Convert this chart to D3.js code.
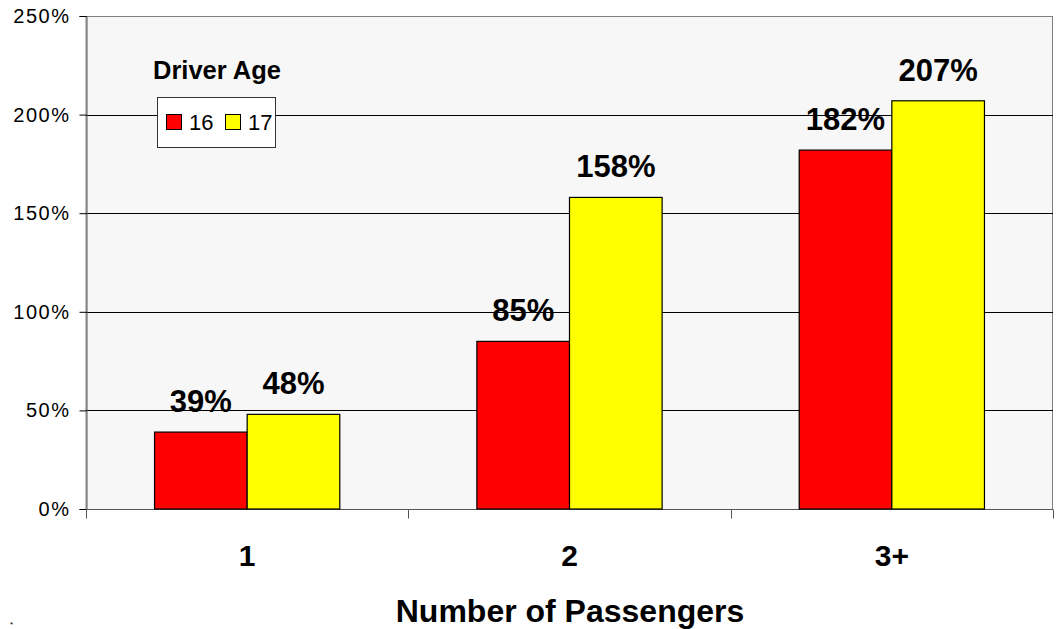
<!DOCTYPE html>
<html>
<head>
<meta charset="utf-8">
<script src="https://cdn.jsdelivr.net/npm/d3@7"></script>
<style>
  html, body { margin: 0; padding: 0; background: #fff; }
  svg { display: block; font-family: "Liberation Sans", Arial, sans-serif; }
</style>
</head>
<body>
<svg id="chart" width="1057" height="629"></svg>
<script>
const categories = ["1", "2", "3+"];
const seriesNames = ["16", "17"];
const values16 = [0.39, 0.85, 1.82];
const values17 = [0.48, 1.58, 2.07];
const seriesColors = ["#ff0000", "#ffff00"];
const yTicks = [0, 0.5, 1.0, 1.5, 2.0, 2.5];
const legendTitle = "Driver Age";
const xTitle = "Number of Passengers";

const svg = d3.select("#chart");
const m = { left: 86, top: 16, right: 1053, bottom: 509 };

const x = d3.scaleBand().domain(categories).range([m.left, m.right]).padding(0);
const xs = d3.scaleBand().domain(seriesNames).range([0, x.bandwidth()]).paddingInner(0).paddingOuter(0.74);
const y = d3.scaleLinear().domain([0, 2.5]).range([m.bottom, m.top]);
const fmt = d3.format(".0%");

// plot background
svg.append("rect")
  .attr("x", m.left).attr("y", m.top + 0.5)
  .attr("width", m.right - m.left - 0.5).attr("height", m.bottom - m.top)
  .attr("fill", "#f7f7f7").attr("stroke", "#808080").attr("stroke-width", 1);

// gridlines
svg.append("g").selectAll("line")
  .data(yTicks.filter(t => t > 0 && t < 2.5))
  .join("line")
  .attr("x1", m.left).attr("x2", m.right)
  .attr("y1", d => Math.round(y(d)) + 0.5).attr("y2", d => Math.round(y(d)) + 0.5)
  .attr("stroke", "#000").attr("stroke-width", 1);

// y axis
const yAxis = svg.append("g")
  .attr("transform", `translate(${m.left + 0.5},0)`)
  .call(d3.axisLeft(y).tickValues(yTicks).tickFormat(fmt).tickSize(7).tickPadding(9));
yAxis.select(".domain").attr("stroke", "#555");
yAxis.selectAll(".tick line").attr("stroke", "#000");
yAxis.selectAll(".tick text")
  .attr("font-size", 20).attr("fill", "#000")
  .attr("font-family", "'Liberation Sans', Arial, sans-serif")
  .attr("letter-spacing", "1.5px");

// x axis
const xAxis = svg.append("g")
  .attr("transform", `translate(0,${m.bottom + 0.5})`);
xAxis.append("line")
  .attr("x1", m.left).attr("x2", m.right)
  .attr("stroke", "#555");
const boundaries = categories.map(c => x(c)).concat([x(categories[categories.length - 1]) + x.bandwidth()]);
xAxis.selectAll("line.tk").data(boundaries).join("line")
  .attr("class", "tk")
  .attr("x1", d => Math.round(d) + 0.5).attr("x2", d => Math.round(d) + 0.5)
  .attr("y1", 0).attr("y2", 9)
  .attr("stroke", "#555");
xAxis.selectAll("text").data(categories).join("text")
  .attr("x", d => x(d) + x.bandwidth() / 2)
  .attr("y", 56)
  .attr("text-anchor", "middle")
  .attr("font-size", 30).attr("font-weight", "bold")
  .text(d => d);

// bars
const rows = categories.map((c, i) => ({ c, vals: [values16[i], values17[i]] }));
const groups = svg.append("g").selectAll("g").data(rows).join("g")
  .attr("transform", d => `translate(${x(d.c)},0)`);
groups.selectAll("rect")
  .data(d => d.vals.map((v, j) => ({ v, s: seriesNames[j], j })))
  .join("rect")
  .attr("x", d => xs(d.s))
  .attr("y", d => y(d.v))
  .attr("width", xs.bandwidth())
  .attr("height", d => y(0) - y(d.v))
  .attr("fill", d => seriesColors[d.j])
  .attr("stroke", "#000").attr("stroke-width", 1.2);
groups.selectAll("text")
  .data(d => d.vals.map((v, j) => ({ v, s: seriesNames[j], j })))
  .join("text")
  .attr("x", d => xs(d.s) + xs.bandwidth() / 2)
  .attr("y", d => y(d.v) - 20)
  .attr("text-anchor", "middle")
  .attr("font-size", 31).attr("font-weight", "bold")
  .text(d => fmt(d.v));

// legend
const lg = svg.append("g");
lg.append("text").attr("x", 153).attr("y", 79)
  .attr("font-size", 25.5).attr("font-weight", "bold").text(legendTitle);
lg.append("rect").attr("x", 157.5).attr("y", 97.5).attr("width", 118).attr("height", 50)
  .attr("fill", "#fff").attr("stroke", "#333");
const items = [{ x: 166 }, { x: 225 }];
seriesNames.forEach((s, i) => {
  lg.append("rect").attr("x", items[i].x + 0.5).attr("y", 114.5).attr("width", 15).attr("height", 15)
    .attr("fill", seriesColors[i]).attr("stroke", "#000");
  lg.append("text").attr("x", items[i].x + 23).attr("y", 130)
    .attr("font-size", 22).text(s);
});

// axis title
svg.append("text").attr("x", 570).attr("y", 622)
  .attr("text-anchor", "middle")
  .attr("font-size", 32).attr("font-weight", "bold")
  .text(xTitle);

// footnote asterisk
svg.append("text").attr("x", 10).attr("y", 627).attr("font-size", 8).text("*");
</script>
</body>
</html>
